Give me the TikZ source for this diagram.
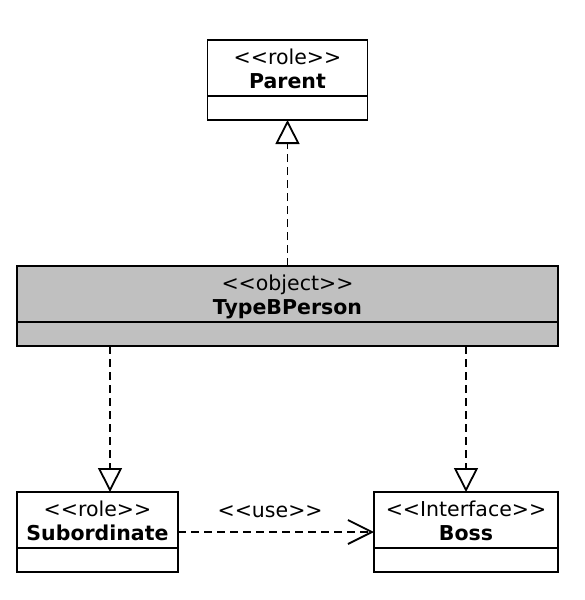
\documentclass[tikz,border=0pt]{standalone}
\usepackage{fontspec}
\setmainfont{DejaVu Sans}
\usetikzlibrary{positioning,arrows.meta,calc}

\definecolor{objgray}{HTML}{C0C0C0}
\newcommand{\stereo}[1]{<\kern0pt<#1>\kern0pt>}

\begin{document}
\begin{tikzpicture}[
    node distance=146pt,
    classname/.style={rectangle, draw, line width=1.8pt, fill=white, minimum height=56pt, inner sep=0pt, outer sep=0pt, align=center, font=\fontsize{20.5}{24}\selectfont},
    classops/.style={rectangle, draw, line width=1.8pt, fill=white, minimum height=24pt, inner sep=0pt, outer sep=0pt},
    object/.style={fill=objgray},
    realize/.style={-{Triangle[open, length=24pt, width=24pt, fill=white]}, line width=1.8pt, dash pattern=on 8pt off 5pt},
    use/.style={-{Straight Barb[length=24pt, width=24pt]}, line width=1.8pt, dash pattern=on 8pt off 5pt},
    label/.style={font=\fontsize{20.5}{24}\selectfont, inner sep=0pt}
]
\useasboundingbox (0,0) rectangle (584pt,-600pt);

% Classes
\node[classname, object, minimum width=541pt] (typeb) at (287.5pt,-294pt)
    {\rule{0pt}{22pt}\stereo{object}\\\bfseries TypeBPerson\rule[-6pt]{0pt}{6pt}};
\node[classops, object, minimum width=541pt, below=0pt of typeb] (typeb-ops) {};

\node[classops, minimum width=160pt, above=of typeb] (parent-ops) {};
\node[classname, minimum width=160pt, above=0pt of parent-ops] (parent)
    {\rule{0pt}{22pt}\stereo{role}\\\bfseries Parent\rule[-6pt]{0pt}{6pt}};

\node[classname, minimum width=161pt, below=of typeb-ops.south west, anchor=north west] (sub)
    {\rule{0pt}{22pt}\stereo{role}\\\bfseries Subordinate\rule[-6pt]{0pt}{6pt}};
\node[classops, minimum width=161pt, below=0pt of sub] (sub-ops) {};

\node[classname, minimum width=184pt, below=of typeb-ops.south east, anchor=north east] (boss)
    {\rule{0pt}{22pt}\stereo{Interface}\\\bfseries Boss\rule[-6pt]{0pt}{6pt}};
\node[classops, minimum width=184pt, below=0pt of boss] (boss-ops) {};

% Realizations
\coordinate[right=12.5pt of sub.north] (sub-in);
\draw[realize] (typeb) -- (parent-ops);
\draw[realize] (sub-in |- typeb-ops.south) -- (sub-in);
\draw[realize] (boss.north |- typeb-ops.south) -- (boss.north);

% Usage
\draw[use] ([yshift=-12pt]sub.east) -- node[label, above=13pt, pos=0.47] {\stereo{use}} ([yshift=-12pt]boss.west);

\end{tikzpicture}
\end{document}
